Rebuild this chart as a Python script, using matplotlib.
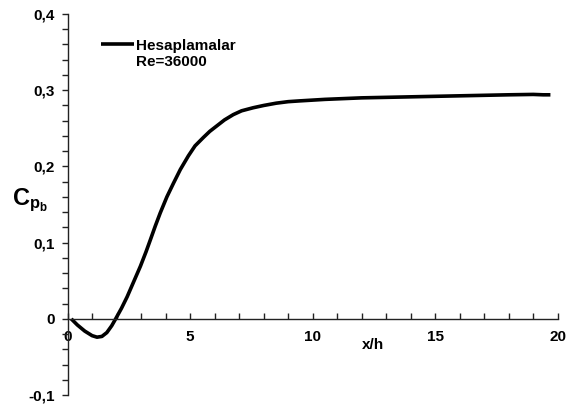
import matplotlib
matplotlib.use("Agg")
from matplotlib import pyplot as plt
from matplotlib.lines import Line2D
from matplotlib.ticker import MultipleLocator, FuncFormatter

# base pressure coefficient along the wall
x_h = [0.15, 0.4, 0.7, 1.0, 1.2, 1.4, 1.6, 1.8, 1.96, 2.2, 2.43, 2.7, 2.97,
       3.2, 3.38, 3.58, 3.78, 4.05, 4.32, 4.6, 4.93, 5.2, 5.54, 5.8, 6.08,
       6.4, 6.76, 7.1, 7.57, 8.0, 8.51, 9.0, 9.46, 10.5, 12.0, 13.5, 15.0,
       16.5, 18.0, 19.0, 19.4, 19.7]
cpb = [0.0, -0.008, -0.016, -0.022, -0.024, -0.023, -0.018, -0.009, 0.0,
       0.014, 0.029, 0.049, 0.069, 0.088, 0.104, 0.122, 0.139, 0.160, 0.178,
       0.196, 0.214, 0.227, 0.238, 0.246, 0.253, 0.261, 0.268, 0.273, 0.277,
       0.280, 0.283, 0.285, 0.286, 0.288, 0.290, 0.291, 0.292, 0.293, 0.294,
       0.2945, 0.294, 0.294]

series_label = "Hesaplamalar"
re_label = "Re=36000"

plt.rcParams['font.family'] = ['Liberation Sans', 'DejaVu Sans']
plt.rcParams['font.weight'] = 'bold'
plt.rcParams['mathtext.fontset'] = 'custom'
plt.rcParams['mathtext.rm'] = 'Liberation Sans:bold'
plt.rcParams['mathtext.it'] = 'Liberation Sans:bold'
plt.rcParams['mathtext.bf'] = 'Liberation Sans:bold'

fig = plt.figure(figsize=(5.68, 4.12), dpi=100)
ax = fig.add_axes([0.119, 0.041, 0.863, 0.925])

line, = ax.plot(x_h, cpb, color='black', linewidth=2.6,
                solid_joinstyle='round', solid_capstyle='butt')

ax.set_xlim(0, 20)
ax.set_ylim(-0.1, 0.4)

ax.spines['top'].set_visible(False)
ax.spines['right'].set_visible(False)
ax.spines['bottom'].set_position(('data', 0))
for s in ('left', 'bottom'):
    ax.spines[s].set_linewidth(1.0)
    ax.spines[s].set_color('#222222')

ax.xaxis.set_major_locator(MultipleLocator(5))
ax.xaxis.set_minor_locator(MultipleLocator(1))
ax.yaxis.set_major_locator(MultipleLocator(0.1))
ax.yaxis.set_minor_locator(MultipleLocator(0.02))

comma = FuncFormatter(lambda v, p: ('%g' % round(v, 2)).replace('.', ','))
ax.yaxis.set_major_formatter(comma)

ax.tick_params(axis='x', which='both', direction='in', length=4, width=1,
               pad=8, labelsize=11, color='#222222')
ax.tick_params(axis='y', which='both', direction='out', length=4, width=1,
               pad=5, labelsize=11, color='#222222')

ax.set_xlabel("x/h", fontsize=11, fontweight='bold', va='center')
ax.xaxis.set_label_coords(0.623, 0.131)

fig.text(0.022, 0.515, r'$C_{p_b}$', fontsize=17, va='center', ha='left')

blank = Line2D([], [], color='none')
leg = ax.legend([line, blank], [series_label, re_label], loc='upper left',
                bbox_to_anchor=(0.052, 0.955), frameon=False,
                handlelength=2.2, handletextpad=0.1, labelspacing=0.15,
                borderpad=0, fontsize=11)

fig.savefig("out.png", dpi=100)
